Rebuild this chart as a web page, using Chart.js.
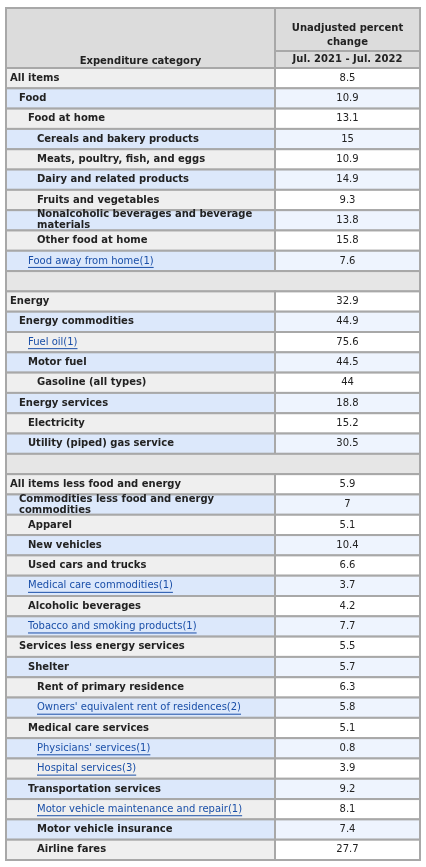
<!DOCTYPE html>
<html>
<head>
<meta charset="utf-8">
<script src="https://cdn.jsdelivr.net/npm/chart.js@4"></script>
<style>
  body { margin: 0; background: #fff; }
  #wrap { width: 426px; height: 867px; }
</style>
</head>
<body>
<div id="wrap"><canvas id="tbl"></canvas></div>
<script>
// rows of the table, "" label = spacer row
var categories = [
  "All items", "Food", "Food at home", "Cereals and bakery products",
  "Meats, poultry, fish, and eggs", "Dairy and related products", "Fruits and vegetables",
  "Nonalcoholic beverages and beverage materials", "Other food at home", "Food away from home(1)",
  "",
  "Energy", "Energy commodities", "Fuel oil(1)", "Motor fuel", "Gasoline (all types)",
  "Energy services", "Electricity", "Utility (piped) gas service",
  "",
  "All items less food and energy", "Commodities less food and energy commodities",
  "Apparel", "New vehicles", "Used cars and trucks", "Medical care commodities(1)",
  "Alcoholic beverages", "Tobacco and smoking products(1)", "Services less energy services",
  "Shelter", "Rent of primary residence", "Owners' equivalent rent of residences(2)",
  "Medical care services", "Physicians' services(1)", "Hospital services(3)",
  "Transportation services", "Motor vehicle maintenance and repair(1)",
  "Motor vehicle insurance", "Airline fares"
];
var levels = [0,1,2,3,3,3,3,3,3,2, 0, 0,1,2,2,3,1,2,2, 0, 0,1,2,2,2,2,2,2,1,2,3,3,2,3,3,2,3,3,3];
var values = [8.5,10.9,13.1,15,10.9,14.9,9.3,13.8,15.8,7.6, null,
  32.9,44.9,75.6,44.5,44,18.8,15.2,30.5, null,
  5.9,7,5.1,10.4,6.6,3.7,4.2,7.7,5.5,5.7,6.3,5.8,5.1,0.8,3.9,9.2,8.1,7.4,27.7];
var valueText = ["8.5","10.9","13.1","15","10.9","14.9","9.3","13.8","15.8","7.6","",
  "32.9","44.9","75.6","44.5","44","18.8","15.2","30.5","",
  "5.9","7","5.1","10.4","6.6","3.7","4.2","7.7","5.5","5.7","6.3","5.8","5.1","0.8","3.9","9.2","8.1","7.4","27.7"];
var links = [9, 13, 25, 27, 31, 33, 34, 36];

var FONT = '"DejaVu Sans", Verdana, sans-serif';
var COLX = 275;

function wrapText(ctx, text, maxW) {
  var words = text.split(" "), lines = [], cur = "";
  words.forEach(function(w) {
    var t = cur ? cur + " " + w : w;
    if (ctx.measureText(t).width > maxW && cur) { lines.push(cur); cur = w; } else cur = t;
  });
  lines.push(cur);
  return lines;
}

var tablePlugin = {
  id: 'table',
  afterDraw: function(chart) {
    var ctx = chart.ctx, y = chart.scales.y, a = chart.chartArea;
    var band = (y.bottom - y.top) / categories.length;
    var L = a.left, R = a.right;
    ctx.save();
    // header
    ctx.fillStyle = "#dcdcdc";
    ctx.fillRect(L, 8, R - L, a.top - 8);
    ctx.strokeStyle = "#a8a8a8"; ctx.lineWidth = 2;
    ctx.strokeRect(L, 8, COLX - L, a.top - 8);
    ctx.strokeRect(COLX, 8, R - COLX, 43);
    ctx.strokeRect(COLX, 51, R - COLX, a.top - 51);
    ctx.fillStyle = "#222"; ctx.font = "bold 10px " + FONT; ctx.textAlign = "center"; ctx.textBaseline = "middle";
    ctx.fillText("Expenditure category", (L + COLX) / 2, 61);
    ctx.fillText("Unadjusted percent", (COLX + R) / 2, 28);
    ctx.fillText("change", (COLX + R) / 2, 42);
    ctx.fillText("Jul. 2021 - Jul. 2022", (COLX + R) / 2, 59);

    var alt = 0;
    categories.forEach(function(cat, i) {
      var cy = y.getPixelForValue(i), top = cy - band / 2;
      if (cat === "") {
        ctx.fillStyle = "#e6e6e6";
        ctx.fillRect(L, top, R - L, band);
        ctx.strokeRect(L, top, R - L, band);
        alt = 0;
        return;
      }
      var blue = alt % 2 === 1; alt++;
      ctx.fillStyle = blue ? "#dce8fb" : "#efefef";
      ctx.fillRect(L, top, COLX - L, band);
      ctx.fillStyle = blue ? "#eef4fe" : "#ffffff";
      ctx.fillRect(COLX, top, R - COLX, band);
      ctx.strokeRect(L, top, COLX - L, band);
      ctx.strokeRect(COLX, top, R - COLX, band);

      var isLink = links.indexOf(i) >= 0;
      ctx.font = (isLink ? "" : "bold ") + "10px " + FONT;
      ctx.textAlign = "left";
      ctx.fillStyle = isLink ? "#1a4fa8" : "#222";
      var x = L + 4 + levels[i] * 9;
      var lines = wrapText(ctx, cat, COLX - x - 8);
      lines.forEach(function(ln, k) {
        var ty = cy + (k - (lines.length - 1) / 2) * 11;
        ctx.fillText(ln, x, ty);
        if (isLink) {
          var w = ctx.measureText(ln).width;
          ctx.fillRect(x, ty + 6, w, 1);
        }
      });
      ctx.font = "10px " + FONT; ctx.fillStyle = "#222"; ctx.textAlign = "center";
      ctx.fillText(valueText[i], (COLX + R) / 2, cy);
    });
    ctx.restore();
  }
};

new Chart(document.getElementById('tbl'), {
  type: 'bar',
  data: {
    labels: categories,
    datasets: [{ data: values, backgroundColor: 'rgba(0,0,0,0)', borderWidth: 0 }]
  },
  options: {
    indexAxis: 'y',
    responsive: true,
    maintainAspectRatio: false,
    animation: false,
    layout: { padding: { top: 68, bottom: 7, left: 6, right: 6 } },
    plugins: { legend: { display: false }, tooltip: { enabled: false } },
    scales: {
      y: { display: false, offset: true },
      x: { display: false, min: 0, max: 80 }
    }
  },
  plugins: [tablePlugin]
});
</script>
</body>
</html>
